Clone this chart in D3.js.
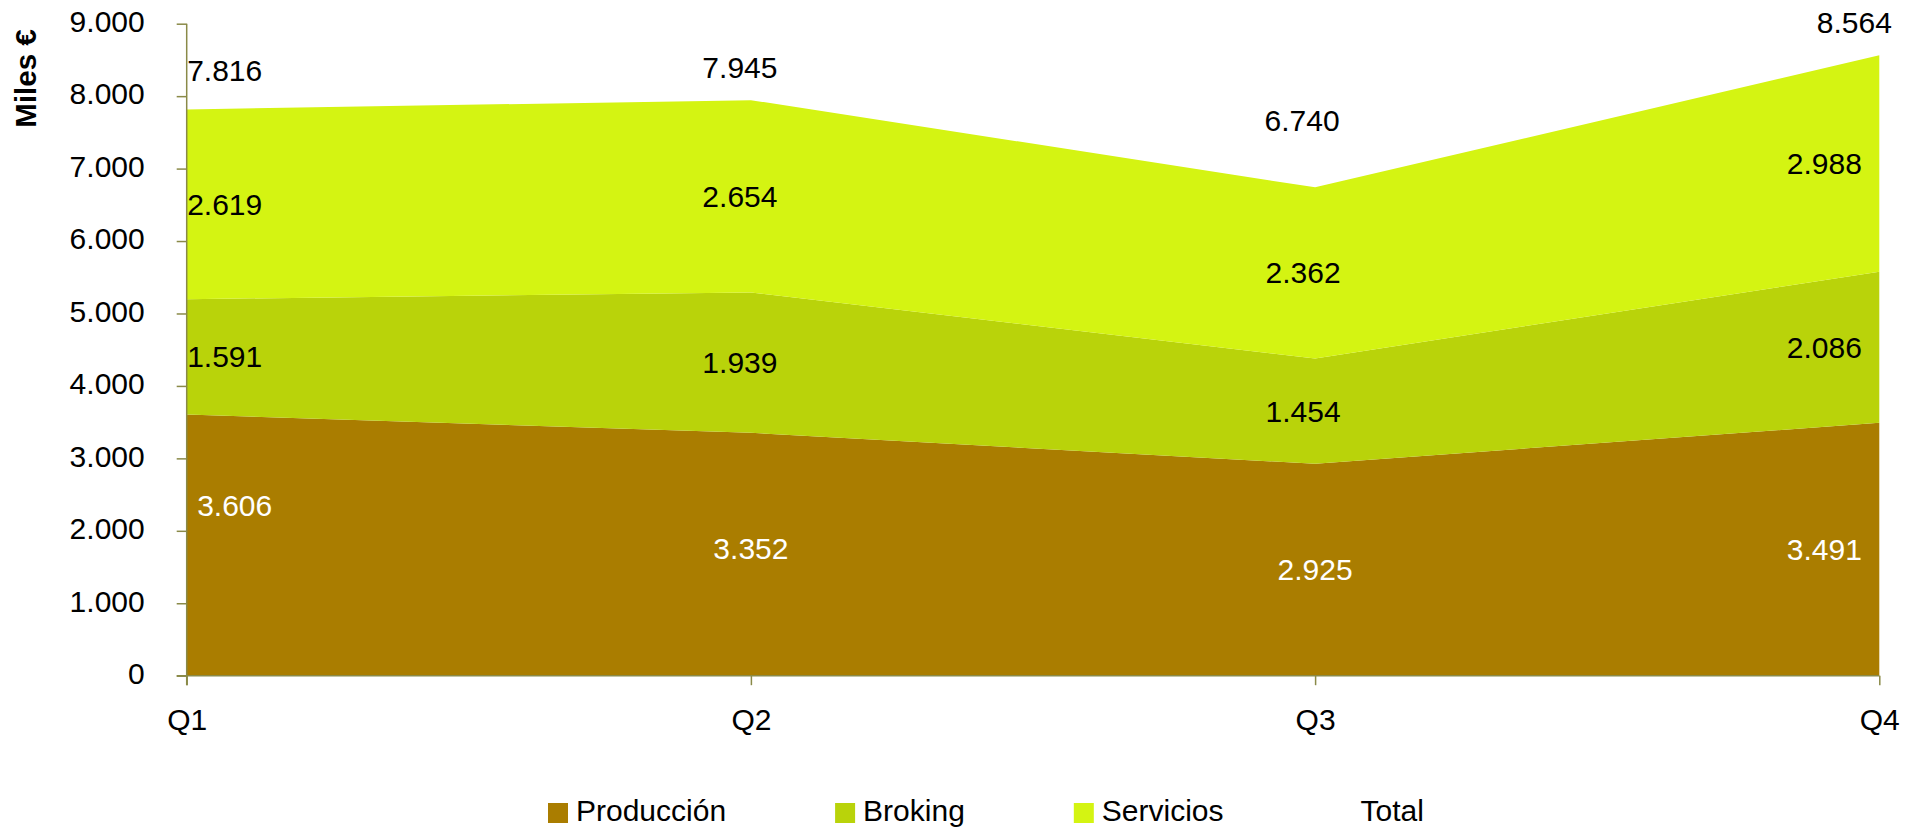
<!DOCTYPE html>
<html>
<head>
<meta charset="utf-8">
<script src="https://cdn.jsdelivr.net/npm/d3@7"></script>
<style>
  html, body { margin: 0; padding: 0; background: #ffffff; }
  svg { display: block; }
  text { font-family: "Liberation Sans", Arial, sans-serif; fill: #000; }
</style>
</head>
<body>
<svg id="chart" width="1919" height="828"></svg>
<script>
// Quarterly revenue by business line (thousands of euros)
const quarters   = ["Q1", "Q2", "Q3", "Q4"];
const produccion = [3606, 3352, 2925, 3491];
const broking    = [1591, 1939, 1454, 2086];
const servicios  = [2619, 2654, 2362, 2988];
const total      = [7816, 7945, 6740, 8564];
const yTicks     = [0, 1000, 2000, 3000, 4000, 5000, 6000, 7000, 8000, 9000];

const seriesNames  = ["Producción", "Broking", "Servicios"];
const seriesColors = ["#aa7d00", "#b9d30a", "#d4f412"];
const axisColor = "#8a8a48";
const fontSize = 30;

const svg = d3.select("#chart");
const margin = { left: 186.7, right: 1919 - 1879.3, top: 23.7, bottom: 828 - 675.7 };
const W = 1919, H = 828;

const x = d3.scalePoint().domain(quarters).range([margin.left, W - margin.right]);
const y = d3.scaleLinear().domain([0, 9000]).range([H - margin.bottom, margin.top]);

const locale = d3.formatLocale({ decimal: ",", thousands: ".", grouping: [3], currency: ["", " €"] });
const fmt = locale.format(",d");

// stacked data
const rows = quarters.map((q, i) => ({
  q, "Producción": produccion[i], "Broking": broking[i], "Servicios": servicios[i]
}));
const stacked = d3.stack().keys(seriesNames)(rows);

const area = d3.area()
  .x(d => x(d.data.q))
  .y0(d => y(d[0]))
  .y1(d => y(d[1]));

svg.append("g").selectAll("path")
  .data(stacked)
  .join("path")
  .attr("d", area)
  .attr("fill", (d, i) => seriesColors[i]);

// y axis
const yAxis = d3.axisLeft(y).tickValues(yTicks).tickFormat(fmt).tickSize(10).tickPadding(42 - 10);
const gy = svg.append("g").attr("transform", `translate(${margin.left},0)`).call(yAxis);
gy.select(".domain").attr("stroke", axisColor).attr("stroke-width", 1.5)
  .attr("d", `M0,${y(9000)}V${y(0) + 9.5}`);
gy.selectAll(".tick line").attr("stroke", axisColor).attr("stroke-width", 1.5);
gy.selectAll(".tick text")
  .attr("font-size", fontSize).attr("font-family", "Liberation Sans, Arial, sans-serif")
  .attr("fill", "#000").attr("dy", "0.26em");

// x axis
const xAxis = d3.axisBottom(x).tickSize(9.5).tickPadding(53.5 - 9.5 - 20);
const gx = svg.append("g").attr("transform", `translate(0,${y(0)})`).call(xAxis);
gx.select(".domain").attr("stroke", axisColor).attr("stroke-width", 1.5)
  .attr("d", `M${margin.left - 10},0H${W - margin.right}`);
gx.selectAll(".tick line").attr("stroke", axisColor).attr("stroke-width", 1.5);
gx.selectAll(".tick text")
  .attr("font-size", fontSize).attr("font-family", "Liberation Sans, Arial, sans-serif")
  .attr("fill", "#000").attr("dy", "0.71em");

// y axis title
svg.append("text")
  .attr("transform", `translate(36,78.5) rotate(-90)`)
  .attr("text-anchor", "middle")
  .attr("font-size", fontSize - 0.5)
  .attr("font-weight", "bold")
  .text("Miles €");

// value labels inside each band (placed at the band's middle)
const bandShift = [38, -11, -12, -55];      // horizontal shift per quarter
const bandLabelColors = ["#ffffff", "#000000", "#000000"];
const labelLayer = svg.append("g").attr("font-size", fontSize).attr("text-anchor", "middle");

stacked.forEach((s, si) => {
  s.forEach((d, qi) => {
    let dx = bandShift[qi];
    let dy = 0;
    if (si === 0) {
      // first band labels sit a little differently
      if (qi === 1 || qi === 2) dx = 0;
      if (qi === 0) { dx = 48; dy = -40; }
      if (qi === 1) dy = -6;
    }
    const cx = x(d.data.q) + dx;
    const cy = y((d[0] + d[1]) / 2) + dy;
    labelLayer.append("text")
      .attr("x", cx).attr("y", cy).attr("dy", "0.35em")
      .attr("fill", bandLabelColors[si])
      .style("fill", bandLabelColors[si])
      .text(fmt(d[1] - d[0]));
  });
});

// total labels above the stack
const totalShiftX = [38, -11, -13, -25];
const totalShiftY = [-38.5, -33, -67, -33];
total.forEach((v, qi) => {
  labelLayer.append("text")
    .attr("x", x(quarters[qi]) + totalShiftX[qi])
    .attr("y", y(v) + totalShiftY[qi])
    .attr("dy", "0.35em")
    .text(fmt(v));
});

// legend
const legendNames = ["Producción", "Broking", "Servicios", "Total"];
const legendColors = [...seriesColors, "none"];
const legend = svg.append("g").attr("font-size", fontSize);
let lx = 548;
legendNames.forEach((name, i) => {
  const g = legend.append("g").attr("transform", `translate(${lx},0)`);
  g.append("rect").attr("x", 0).attr("y", 803).attr("width", 20).attr("height", 20)
    .attr("fill", legendColors[i]);
  const t = g.append("text").attr("x", 28).attr("y", 821).text(name);
  lx += 28 + t.node().getComputedTextLength() + 109;
});
</script>
</body>
</html>
